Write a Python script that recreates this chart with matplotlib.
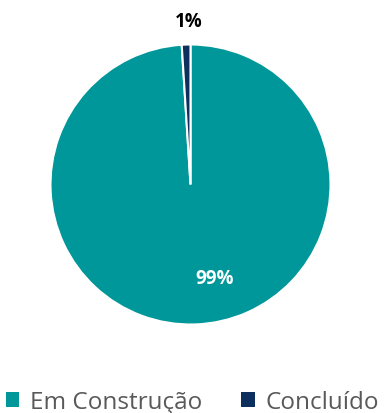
import matplotlib
matplotlib.use("Agg")
import matplotlib.pyplot as plt
from matplotlib.patches import Patch

# --- data --- #
categories = ["Em Construção", "Concluído"]
shares = [99, 1]
share_labels = ["99%", "1%"]
colors = ["#00979A", "#0D2F5E"]

plt.rcParams["font.family"] = ["Open Sans", "DejaVu Sans"]

fig = plt.figure(figsize=(3.85, 4.14), dpi=100)

# pie centred at ~(190, 185) px, radius ~140 px
cx, cy, r = 190.5 / 385, 1 - 185.5 / 414, 140
ax = fig.add_axes([cx - r / 385, cy - r / 414, 2 * r / 385, 2 * r / 414])

wedges, _ = ax.pie(
    shares,
    colors=colors,
    startangle=90,
    counterclock=False,
    radius=1.0,
    wedgeprops=dict(edgecolor="white", linewidth=1.5),
)
ax.set_xlim(-1, 1)
ax.set_ylim(-1, 1)
ax.set_aspect("equal")
ax.axis("off")

# data labels (Excel-style placement)
ax.text(0.175, -0.668, share_labels[0], color="white", fontsize=13.5,
        fontweight="bold", ha="center", va="center")
ax.text(-0.01, 1.17, share_labels[1], color="black", fontsize=13.5,
        fontweight="bold", ha="center", va="center", clip_on=False)

handles = [Patch(facecolor=c, edgecolor="none") for c in colors]
fig.legend(
    handles, categories,
    loc="lower center", bbox_to_anchor=(0.5, -0.055),
    ncol=2, frameon=False,
    fontsize=17.5, labelcolor="#595959",
    handlelength=0.55, handleheight=0.55, handletextpad=0.45,
    columnspacing=1.6,
)

fig.savefig("out.png", dpi=100)
